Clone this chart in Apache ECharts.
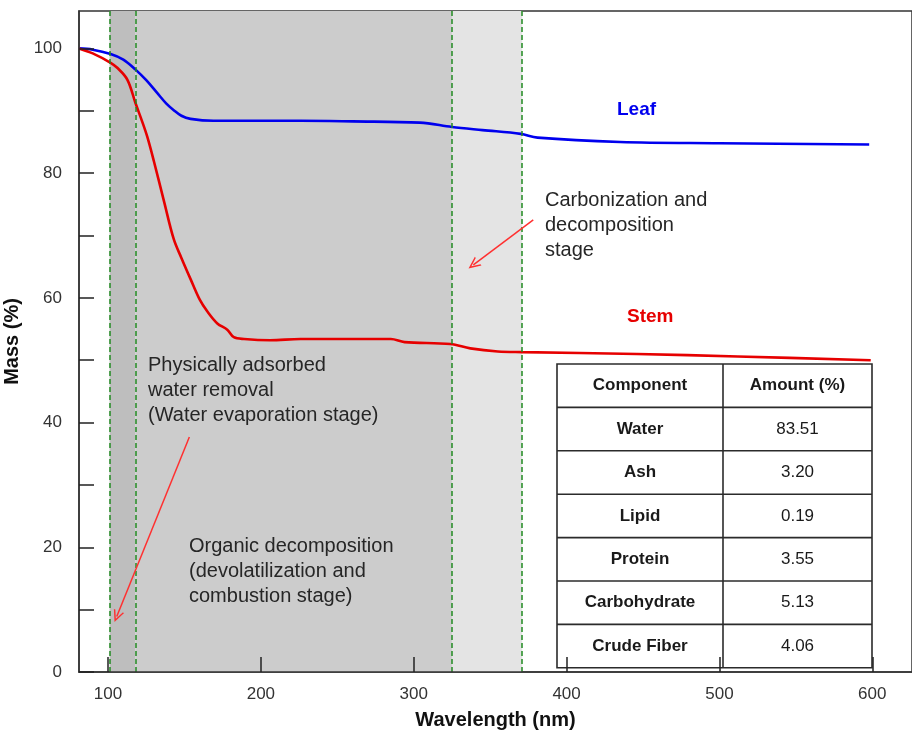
<!DOCTYPE html>
<html>
<head>
<meta charset="utf-8">
<script src="https://cdn.jsdelivr.net/npm/echarts@6/dist/echarts.min.js"></script>
<style>
html,body{margin:0;padding:0;background:#fff;}
#chart{width:912px;height:731px;}
</style>
</head>
<body>
<div id="chart"></div>
<script>
// ---- data ----
const wavelengthTicks = [100, 200, 300, 400, 500, 600];
const massTicks = [0, 10, 20, 30, 40, 50, 60, 70, 80, 90, 100];
const massLabels = [0, 20, 40, 60, 80, 100];

// [wavelength (nm), mass (%)]
const leafMass = [[81,100],[90,99.8],[101.7,99.1],[110,98.2],[118,96.6],[125,94.9],[132,92.9],[138,91.2],[143,90.1],[148,89.2],[154,88.7],[169,88.4],[226,88.4],[260,88.3],[304,88.1],[325,87.4],[345,86.9],[370,86.3],[381,85.7],[435,85.0],[500,84.8],[598,84.6]];
const stemMass = [[81,100],[90,99.2],[101.7,97.7],[106,96.9],[112.6,95.0],[118,91.2],[122,88.5],[125.7,85.8],[130,81.9],[136.5,75.6],[143,69.4],[148,66.4],[154,63],[160,59.7],[165,57.8],[171.5,55.9],[178,54.9],[182.3,53.7],[189,53.4],[206,53.2],[226,53.4],[272,53.4],[285,53.4],[294,52.9],[324,52.6],[337,51.9],[355,51.4],[371,51.3],[446,51.0],[512,50.6],[599,50.0]];

// stage boundaries (nm)
const stageBounds = [101, 118, 325, 371];
const stageColors = ['#bebebe', '#cccccc', '#e4e4e4'];

// annotation arrows: [[fromNm, fromMass], [toNm, toMass]]
const arrowAnnotations = [
  [[378.2, 72.5], [339.0, 65.3]],
  [[153.2, 37.7], [105.7, 8.9]]
];

const tableHeader = ['Component', 'Amount (%)'];
const componentNames = ['Water', 'Ash', 'Lipid', 'Protein', 'Carbohydrate', 'Crude Fiber'];
const componentAmounts = ['83.51', '3.20', '0.19', '3.55', '5.13', '4.06'];

// ---- chart ----
const FONT = '"Liberation Sans", Arial, sans-serif';
const chart = echarts.init(document.getElementById('chart'));

const markAreaData = [];
for (let i = 0; i < stageBounds.length - 1; i++) {
  markAreaData.push([{xAxis: stageBounds[i], itemStyle: {color: stageColors[i]}}, {xAxis: stageBounds[i + 1]}]);
}

const chevron = 'path://M5,0 L10,10 L8.6,10 L5,3 L1.4,10 L0,10 Z';

// table graphics
const tX = 557, tMid = 723, tR = 872, tTop = 364, rowH = 43.4;
const nRows = componentNames.length + 1;
const tableEls = [];
tableEls.push({type: 'rect', shape: {x: tX, y: tTop, width: tR - tX, height: rowH * nRows}, style: {fill: '#fff', stroke: '#2b2b2b', lineWidth: 1.6}, z: 5});
for (let r = 1; r < nRows; r++) {
  tableEls.push({type: 'line', shape: {x1: tX, y1: tTop + rowH * r, x2: tR, y2: tTop + rowH * r}, style: {stroke: '#2b2b2b', lineWidth: 1.6}, z: 6});
}
tableEls.push({type: 'line', shape: {x1: tMid, y1: tTop, x2: tMid, y2: tTop + rowH * nRows}, style: {stroke: '#2b2b2b', lineWidth: 1.6}, z: 6});
const rowsL = [tableHeader[0]].concat(componentNames);
const rowsR = [tableHeader[1]].concat(componentAmounts);
for (let r = 0; r < nRows; r++) {
  const cy = tTop + rowH * r + rowH / 2;
  tableEls.push({type: 'text', x: (tX + tMid) / 2, y: cy, z: 7, style: {text: rowsL[r], font: 'bold 17px ' + FONT, fill: '#1a1a1a', align: 'center', verticalAlign: 'middle'}});
  tableEls.push({type: 'text', x: (tMid + tR) / 2, y: cy, z: 7, style: {text: rowsR[r], font: (r === 0 ? 'bold ' : '') + '17px ' + FONT, fill: '#1a1a1a', align: 'center', verticalAlign: 'middle'}});
}

function note(text, x, y, font, color) {
  return {type: 'text', x: x, y: y, z: 8, style: {text: text, font: font, fill: color, align: 'left', verticalAlign: 'top', lineHeight: 25}};
}

const option = {
  backgroundColor: '#fff',
  animation: false,
  grid: {left: 79, right: 0, top: 11, bottom: 59, show: true, borderColor: '#333', borderWidth: 1.5, backgroundColor: 'transparent', containLabel: false, outerBoundsMode: 'none'},
  xAxis: {
    type: 'value', min: 81, max: 626, z: 10,
    name: 'Wavelength (nm)', nameLocation: 'middle', nameGap: 38,
    nameTextStyle: {fontFamily: FONT, fontWeight: 'bold', fontSize: 20, color: '#111'},
    axisLine: {lineStyle: {color: '#333', width: 1.5}},
    axisTick: {inside: true, length: 15, customValues: wavelengthTicks, lineStyle: {color: '#222', width: 1.5}},
    axisLabel: {customValues: wavelengthTicks, fontFamily: FONT, fontSize: 17, color: '#333', margin: 14},
    splitLine: {show: false}
  },
  yAxis: {
    type: 'value', min: 0, max: 106, z: 10,
    name: 'Mass (%)', nameLocation: 'middle', nameGap: 44,
    nameTextStyle: {fontFamily: FONT, fontWeight: 'bold', fontSize: 20, color: '#111'},
    axisLine: {lineStyle: {color: '#333', width: 1.5}},
    axisTick: {inside: true, length: 15, customValues: massTicks, lineStyle: {color: '#222', width: 1.5}},
    axisLabel: {customValues: massLabels, fontFamily: FONT, fontSize: 17, color: '#333', margin: 17},
    splitLine: {show: false}
  },
  series: [
    {
      name: 'stages', type: 'line', data: [], z: 1, silent: true,
      markArea: {silent: true, data: markAreaData, label: {show: false}},
      markLine: {
        silent: true, symbol: 'none', label: {show: false},
        lineStyle: {color: '#228b22', type: [5, 3], width: 1.5},
        data: stageBounds.map(v => ({xAxis: v}))
      }
    },
    {
      name: 'Leaf', type: 'line', data: leafMass, smooth: 0.35,
      showSymbol: false, z: 3, lineStyle: {color: '#0000ee', width: 2.6}, itemStyle: {color: '#0000ee'}
    },
    {
      name: 'Stem', type: 'line', data: stemMass, smooth: 0.35,
      showSymbol: false, z: 3, lineStyle: {color: '#e60000', width: 2.6}, itemStyle: {color: '#e60000'},
      markLine: {
        silent: true, symbol: ['none', chevron], symbolSize: [11, 12], label: {show: false},
        lineStyle: {color: '#ff3030', type: 'solid', width: 1.5},
        data: arrowAnnotations.map(a => [{coord: a[0]}, {coord: a[1]}])
      }
    }
  ],
  graphic: tableEls.concat([
    note('Leaf', 617, 97, 'bold 19px ' + FONT, '#0000ee'),
    note('Stem', 627, 304, 'bold 19px ' + FONT, '#e60000'),
    note('Carbonization and\ndecomposition\nstage', 545, 187.5, '20px ' + FONT, '#262626'),
    note('Physically adsorbed\nwater removal\n(Water evaporation stage)', 148, 352.5, '20px ' + FONT, '#262626'),
    note('Organic decomposition\n(devolatilization and\ncombustion stage)', 189, 534, '20px ' + FONT, '#262626')
  ])
};
chart.setOption(option);
</script>
</body>
</html>
